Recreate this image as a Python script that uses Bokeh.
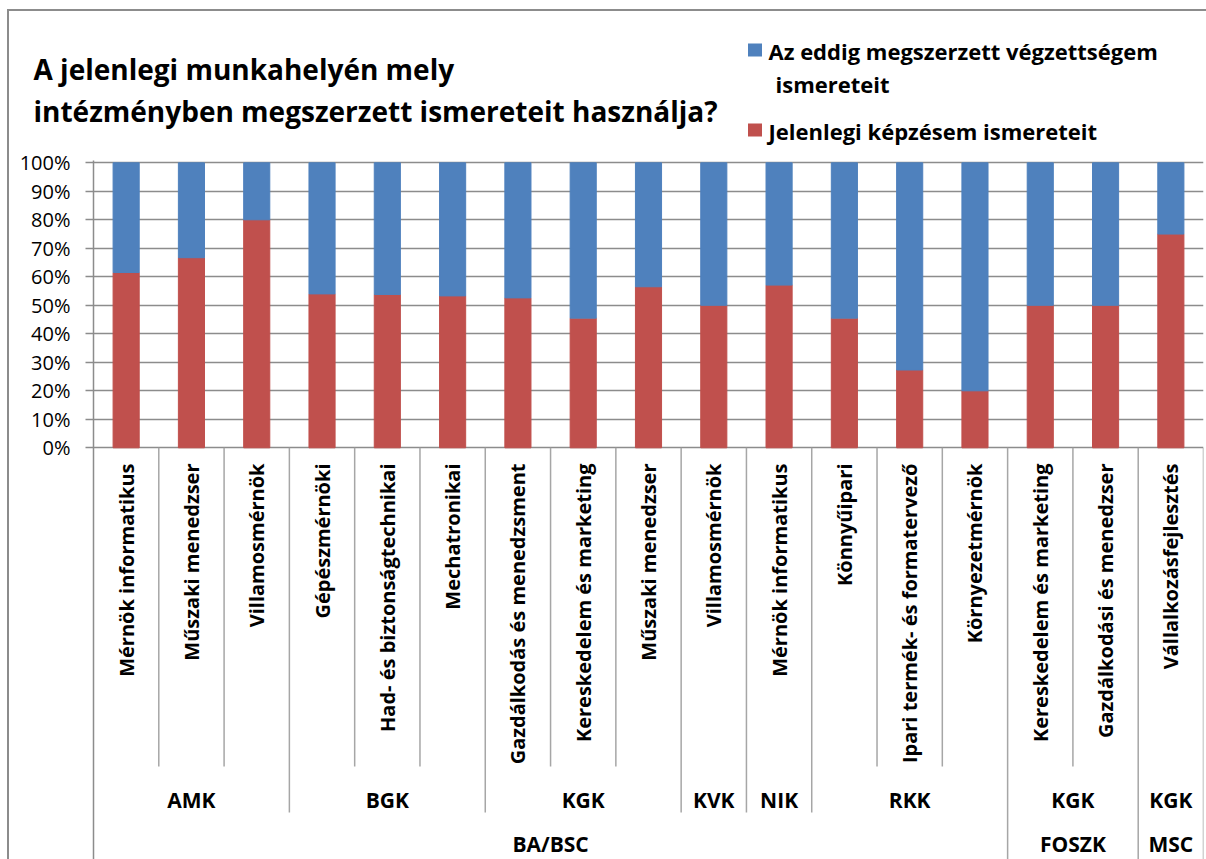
import math
from bokeh.plotting import figure
from bokeh.layouts import column
from bokeh.models import Range1d, FixedTicker, ColumnDataSource, NumeralTickFormatter
from bokeh.core.properties import value
from bokeh.embed import file_html
from bokeh.resources import INLINE

# ---------------- data ----------------
title_lines = ["A jelenlegi munkahelyén mely",
               "intézményben megszerzett ismereteit használja?"]
levels = ["BA/BSC"] * 14 + ["FOSZK"] * 2 + ["MSC"]
faculties = ["AMK", "AMK", "AMK", "BGK", "BGK", "BGK", "KGK", "KGK", "KGK",
             "KVK", "NIK", "RKK", "RKK", "RKK", "KGK", "KGK", "KGK"]
programs = ["Mérnök informatikus", "Műszaki menedzser", "Villamosmérnök",
            "Gépészmérnöki", "Had- és biztonságtechnikai", "Mechatronikai",
            "Gazdálkodás és menedzsment", "Kereskedelem és marketing",
            "Műszaki menedzser", "Villamosmérnök", "Mérnök informatikus",
            "Könnyűipari", "Ipari termék- és formatervező", "Környezetmérnök",
            "Kereskedelem és marketing", "Gazdálkodási és menedzser",
            "Vállalkozásfejlesztés"]
# share (%) "Jelenlegi képzésem ismereteit"
current = [61.5, 66.7, 80.0, 54.0, 53.8, 53.3, 52.6, 45.5, 56.5, 50.0,
           57.1, 45.5, 27.3, 20.0, 50.0, 50.0, 75.0]
# share (%) "Az eddig megszerzett végzettségem ismereteit"
previous = [round(100 - c, 1) for c in current]
series_names = ["Az eddig megszerzett végzettségem ismereteit",
                "Jelenlegi képzésem ismereteit"]
y_ticks = [i / 10 for i in range(11)]

BLUE = "#4F81BD"
RED = "#C0504D"
GRID = "#8C8C8C"
SEP = "#A6A6A6"
FONT = "Open Sans"

# ---------------- layout (page pixels) ----------------
PAGE_W, PAGE_H = 1206, 859
OX, OY = 9, 11            # where the chart box content starts (after border)
HEAD_H = 134              # header (title + legend) height
MAIN_TOP = OY + HEAD_H    # 145
FRAME_L, FRAME_R, FRAME_T = 93, 1203, 160
ZERO_Y, FULL_Y = 447.3, 162.3
n = len(programs)
UNIT = ZERO_Y - FULL_Y

def ydat(py):
    return (ZERO_Y - py) / UNIT

# ---------------- header figure: title + legend ----------------
head = figure(width=PAGE_W - OX, height=HEAD_H, output_backend="svg",
              toolbar_location=None, x_range=Range1d(OX, PAGE_W),
              y_range=Range1d(MAIN_TOP, OY), min_border=0,
              x_axis_location=None, y_axis_location=None)
head.frame_align = False
head.grid.visible = False
head.outline_line_color = None
head.border_fill_color = "white"

head.text(x=[33, 33], y=[68, 110], text=title_lines, text_align="left",
          text_baseline="middle", text_font=value(FONT),
          text_font_style="bold", text_font_size=value("28px"),
          text_color="black")

first_words, last_word = series_names[0].rsplit(" ", 1)
head.rect(x=[754.5, 754.5], y=[49.5, 129.5], width=14, height=13,
          fill_color=[BLUE, RED], line_color=None)
head.text(x=[768, 775, 768], y=[50, 83, 130],
          text=[first_words, last_word, series_names[1]],
          text_align="left", text_baseline="middle", text_font=value(FONT),
          text_font_style="bold", text_font_size=value("22px"),
          text_color="black")

# ---------------- main figure ----------------
MAIN_H = PAGE_H - MAIN_TOP
p = figure(width=PAGE_W - OX, height=MAIN_H, output_backend="svg",
           toolbar_location=None,
           x_range=Range1d(0, n), y_range=Range1d(ydat(PAGE_H), ydat(FRAME_T)),
           min_border_left=FRAME_L - OX, min_border_right=PAGE_W - FRAME_R,
           min_border_top=FRAME_T - MAIN_TOP, min_border_bottom=0,
           x_axis_location=None)
p.frame_align = False
p.outline_line_color = None
p.border_fill_color = "white"

p.yaxis.ticker = FixedTicker(ticks=y_ticks)
p.yaxis.formatter = NumeralTickFormatter(format="0%")
p.yaxis.axis_line_color = GRID
p.yaxis.axis_line_width = 1.5
p.yaxis.major_tick_line_color = GRID
p.yaxis.major_tick_line_width = 1.5
p.yaxis.major_tick_out = 8
p.yaxis.major_tick_in = 0
p.yaxis.minor_tick_line_color = None
p.yaxis.major_label_standoff = 15
p.yaxis.major_label_text_font = FONT
p.yaxis.major_label_text_font_size = "20px"
p.yaxis.major_label_text_color = "black"

p.xgrid.visible = False
p.ygrid.ticker = FixedTicker(ticks=y_ticks)
p.ygrid.grid_line_color = GRID
p.ygrid.grid_line_width = 1.5

xs = [i + 0.5 for i in range(n)]
src = ColumnDataSource(dict(
    x=xs,
    cur=[c / 100 for c in current],
    top=[(c + pr) / 100 for c, pr in zip(current, previous)],
    zero=[0.0] * n,
))
p.vbar(x="x", width=0.4, bottom="zero", top="cur", source=src,
       fill_color=RED, line_color=RED)
p.vbar(x="x", width=0.4, bottom="cur", top="top", source=src,
       fill_color=BLUE, line_color=BLUE)

# three-level category labels
p.text(x=xs, y=[ydat(463)] * n, text=programs, angle=math.pi / 2,
       text_align="right", text_baseline="middle",
       text_font=value(FONT), text_font_style="bold",
       text_font_size=value("20px"), text_color="black")

def runs(keys):
    out, start = [], 0
    for i in range(1, len(keys) + 1):
        if i == len(keys) or keys[i] != keys[start]:
            out.append((start, i, keys[start]))
            start = i
    return out

fac_runs = runs(list(zip(levels, faculties)))
lev_runs = runs(levels)

p.text(x=[(a + b) / 2 for a, b, _ in fac_runs], y=[ydat(799)] * len(fac_runs),
       text=[k[1] for _, _, k in fac_runs], text_align="center",
       text_baseline="middle", text_font=value(FONT), text_font_style="bold",
       text_font_size=value("21px"), text_color="black")
p.text(x=[(a + b) / 2 for a, b, _ in lev_runs], y=[ydat(843)] * len(lev_runs),
       text=list(k for _, _, k in lev_runs), text_align="center",
       text_baseline="middle", text_font=value(FONT), text_font_style="bold",
       text_font_size=value("21px"), text_color="black")

sx, sy1 = [], []
for b in range(1, n + 1):
    if b == n or levels[b] != levels[b - 1]:
        end = ydat(PAGE_H + 5)
    elif faculties[b] != faculties[b - 1]:
        end = ydat(812)
    else:
        end = ydat(766)
    sx.append(b)
    sy1.append(end)
p.segment(x0=sx, y0=[0] * len(sx), x1=sx, y1=sy1, line_color=SEP,
          line_width=1.5)

layout = column(head, p, spacing=0,
                styles={"margin-left": "7px", "margin-top": "9px",
                        "border-left": "2px solid #8C8C8C",
                        "border-top": "2px solid #8C8C8C"})

open("out.html", "w").write(file_html(layout, INLINE))
